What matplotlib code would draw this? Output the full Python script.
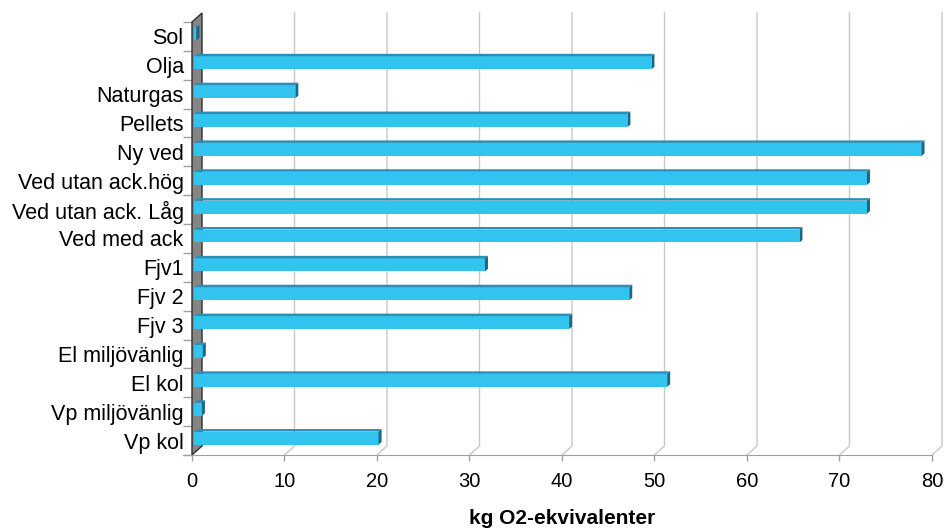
import numpy as np
import matplotlib.pyplot as plt
from matplotlib.patches import Polygon

plt.rcParams['font.family'] = ['Liberation Sans', 'DejaVu Sans']

# data, top to bottom as in the chart
kategorier = ["Sol", "Olja", "Naturgas", "Pellets", "Ny ved", "Ved utan ack.hög",
              "Ved utan ack. Låg", "Ved med ack", "Fjv1", "Fjv 2", "Fjv 3",
              "El miljövänlig", "El kol", "Vp miljövänlig", "Vp kol"]
varden = [0.2, 49.4, 10.9, 46.8, 78.6, 72.7, 72.7, 65.4, 31.4, 47.0, 40.5,
          0.9, 51.1, 0.8, 19.9]
xticks = [0, 10, 20, 30, 40, 50, 60, 70, 80]
xlabel = "kg O2-ekvivalenter"

kat = kategorier[::-1]
val = np.array(varden[::-1])
y = np.arange(len(kat))

W, H = 945, 528
fig = plt.figure(figsize=(W / 100, H / 100), dpi=100)
x0, x1, ytop, ybot = 192, 932, 22, 455
ax = fig.add_axes([x0 / W, 1 - ybot / H, (x1 - x0) / W, (ybot - ytop) / H])
ax.set_xlim(0, 80)
ax.set_ylim(-0.5, len(kat) - 0.5)

# px -> data units
px_x = 80 / (x1 - x0)
px_y = len(kat) / (ybot - ytop)

# back plane / wall depth
dxw, dyw = 10 * px_x, 9 * px_y
ylo, yhi = -0.5, len(kat) - 0.5

# gridlines on back plane
for t in xticks[1:]:
    ax.plot([t, t + dxw, t + dxw], [ylo, ylo + dyw, yhi + dyw],
            color="#c8c8c8", lw=1, clip_on=False, zorder=1)

# left wall
wall = Polygon([(0, ylo), (dxw, ylo + dyw), (dxw, yhi + dyw), (0, yhi)],
               closed=True, facecolor="#858585", edgecolor="#303030", lw=1,
               clip_on=False, zorder=2)
ax.add_patch(wall)

# bars
bx0 = 2.5 * px_x
byoff = 2.5 * px_y
bh = 0.45
ddx, ddy = 3 * px_x, 2.5 * px_y
front = "#33c3ef"
top_c = "#2a8fb6"
side_c = "#1d6684"

ax.barh(y + byoff, val, left=bx0, height=bh, color=front, zorder=3)
for yi, v in zip(y + byoff, val):
    yb, yt = yi - bh / 2, yi + bh / 2
    xe = bx0 + v
    ax.add_patch(Polygon([(bx0, yt), (xe, yt), (xe + ddx, yt + ddy), (bx0 + ddx, yt + ddy)],
                         closed=True, facecolor=top_c, edgecolor="none", zorder=3))
    ax.add_patch(Polygon([(xe, yb), (xe, yt), (xe + ddx, yt + ddy), (xe + ddx, yb + ddy)],
                         closed=True, facecolor=side_c, edgecolor="none", zorder=3))

# axes styling
for s in ["top", "right", "left"]:
    ax.spines[s].set_visible(False)
ax.spines["bottom"].set_color("#a0a0a0")
ax.spines["bottom"].set_bounds(-9 * px_x, 80)

ax.set_xticks(xticks)
ax.set_xticklabels([str(t) for t in xticks], fontsize=14.5)
ax.tick_params(axis="x", colors="#a0a0a0", length=4, width=1, pad=8, labelcolor="black")

ax.set_yticks(y)
ax.set_yticklabels(kat, fontsize=15.5)
ax.set_yticks(np.arange(-0.5, len(kat)), minor=True)
ax.tick_params(axis="y", which="major", length=0, pad=6)
ax.tick_params(axis="y", which="minor", length=6.5, width=1, color="#a0a0a0")

fig.text((x0 + x1) / 2 / W, 1 - 519 / H, xlabel, fontsize=15, fontweight="bold",
         ha="center", va="center")

fig.savefig("out.png", dpi=100)
